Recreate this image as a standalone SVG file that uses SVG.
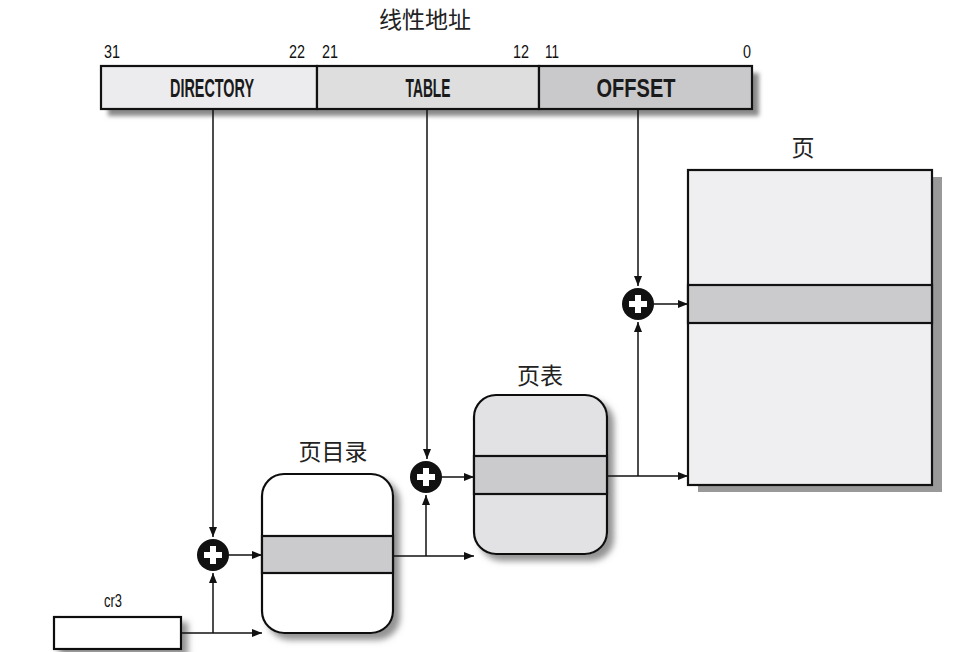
<svg xmlns="http://www.w3.org/2000/svg" width="956" height="652" viewBox="0 0 956 652">
<style>
.box{stroke:#111;stroke-width:2.2}
.band{fill:#cbcbce;stroke:#111;stroke-width:2.2}
.lbl{font-family:"Noto Sans CJK SC","Noto Sans CJK JP",sans-serif;font-size:23px;fill:#222;text-anchor:middle}
.num{font-family:"Liberation Sans",sans-serif;font-size:19px;fill:#111}
.fld{font-family:"Liberation Sans",sans-serif;font-size:25px;font-weight:bold;fill:#1a1a1a;text-anchor:middle}
.wire{stroke:#111;stroke-width:1.5;fill:none}
</style>
<defs>
<marker id="ah" viewBox="0 0 10 8" refX="10" refY="4" markerWidth="10" markerHeight="8" markerUnits="userSpaceOnUse" orient="auto">
<path d="M0,0 L10,4 L0,8 Z" fill="#111"/>
</marker>
<filter id="sh" x="-10%" y="-10%" width="130%" height="130%">
<feDropShadow dx="6" dy="6" stdDeviation="3" flood-color="#777" flood-opacity="0.8"/>
</filter>
<filter id="blur" x="-10%" y="-20%" width="120%" height="140%">
<feGaussianBlur stdDeviation="2"/>
</filter>
<g id="plusSym">
<circle r="16" fill="#111"/>
<rect x="-9" y="-3" width="18" height="6" fill="#fff"/>
<rect x="-3" y="-9" width="6" height="18" fill="#fff"/>
</g>
</defs>
<rect width="956" height="652" fill="#fff"/>

<g id="linear-address">
<text class="lbl" x="425" y="28" font-size="21">线性地址</text>
<rect x="108" y="73" width="651" height="43" fill="#8a8a8a" filter="url(#blur)"/>
<rect class="box" x="101" y="66" width="216" height="43" fill="#ececef"/>
<rect class="box" x="317" y="66" width="222" height="43" fill="#dededf"/>
<rect class="box" x="539" y="66" width="213" height="43" fill="#c9c9cc"/>
<text class="fld" x="212" y="97" textLength="84" lengthAdjust="spacingAndGlyphs">DIRECTORY</text>
<text class="fld" x="428" y="97" textLength="45" lengthAdjust="spacingAndGlyphs">TABLE</text>
<text class="fld" x="636" y="97" textLength="79" lengthAdjust="spacingAndGlyphs">OFFSET</text>
<text class="num" x="104" y="58" textLength="16" lengthAdjust="spacingAndGlyphs">31</text>
<text class="num" x="289" y="58" textLength="16" lengthAdjust="spacingAndGlyphs">22</text>
<text class="num" x="322" y="58" textLength="16" lengthAdjust="spacingAndGlyphs">21</text>
<text class="num" x="513" y="58" textLength="16" lengthAdjust="spacingAndGlyphs">12</text>
<text class="num" x="545" y="58" textLength="14" lengthAdjust="spacingAndGlyphs">11</text>
<text class="num" x="743" y="58" textLength="8" lengthAdjust="spacingAndGlyphs">0</text>
</g>

<g id="cr3">
<text class="num" x="104" y="607" font-size="20" textLength="18" lengthAdjust="spacingAndGlyphs">cr3</text>
<rect class="box" x="54" y="617" width="127" height="32" fill="#fff" filter="url(#sh)"/>
</g>

<g id="page-directory">
<text class="lbl" x="333" y="460">页目录</text>
<rect class="box" x="262" y="474" width="131" height="159" rx="22" fill="#fff" filter="url(#sh)"/>
<rect class="band" x="262" y="536" width="131" height="37"/>
</g>

<g id="page-table">
<text class="lbl" x="540" y="384">页表</text>
<rect class="box" x="474" y="395" width="133" height="159" rx="22" fill="#e2e2e4" filter="url(#sh)"/>
<rect class="band" x="474" y="456" width="133" height="38"/>
</g>

<g id="page">
<text class="lbl" x="803" y="156">页</text>
<rect x="688" y="170" width="244" height="315" fill="#999" transform="translate(10,7)"/>
<rect class="box" x="688" y="170" width="244" height="315" fill="#efeff2"/>
<rect class="band" x="688" y="285" width="244" height="38"/>
</g>

<g id="adder-1"><use href="#plusSym" x="213" y="555"/></g>
<g id="adder-2"><use href="#plusSym" x="426" y="477"/></g>
<g id="adder-3"><use href="#plusSym" x="638" y="304"/></g>

<g id="connectors">
<path class="wire" d="M213,109 V537" marker-end="url(#ah)"/>
<path class="wire" d="M427,109 V459" marker-end="url(#ah)"/>
<path class="wire" d="M638,109 V286" marker-end="url(#ah)"/>
<path class="wire" d="M181,633 H262" marker-end="url(#ah)"/>
<path class="wire" d="M213,633 V573" marker-end="url(#ah)"/>
<path class="wire" d="M229,555 H262" marker-end="url(#ah)"/>
<path class="wire" d="M393,556 H474" marker-end="url(#ah)"/>
<path class="wire" d="M426,556 V495" marker-end="url(#ah)"/>
<path class="wire" d="M442,477 H474" marker-end="url(#ah)"/>
<path class="wire" d="M607,476 H688" marker-end="url(#ah)"/>
<path class="wire" d="M638,476 V322" marker-end="url(#ah)"/>
<path class="wire" d="M654,304 H688" marker-end="url(#ah)"/>
</g>
</svg>
